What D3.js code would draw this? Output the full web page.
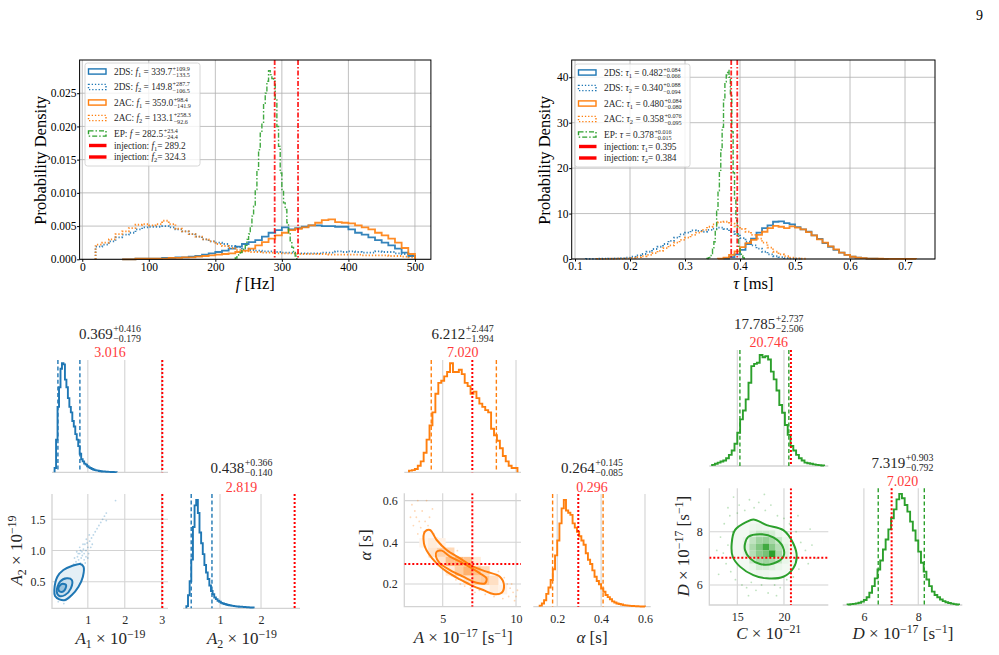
<!DOCTYPE html>
<html>
<head>
<meta charset="utf-8">
<script src="https://cdn.jsdelivr.net/npm/d3@7"></script>
<style>
body { margin: 0; background: #fff; }
</style>
</head>
<body>
<div id="fig"></div>
<script>
// ---------- data: top panels ----------
var fTicks = [0, 100, 200, 300, 400, 500];
var fDensTicks = [0, 0.005, 0.010, 0.015, 0.020, 0.025];
var tauTicks = [0.1, 0.2, 0.3, 0.4, 0.5, 0.6, 0.7];
var tauDensTicks = [0, 10, 20, 30, 40];

// f histograms (10 Hz bins)
var fBin = 10, f1Start = 60, f2Start = 20;
var f1_2DS = [0.0000,0.0000,0.0001,0.0001,0.0001,0.0001,0.0002,0.0002,0.0003,0.0003,0.0004,0.0005,0.0007,0.0009,0.0011,0.0013,0.0016,0.0019,0.0023,0.0026,0.0029,0.0034,0.0040,0.0044,0.0048,0.0045,0.0047,0.0049,0.0051,0.0051,0.0050,0.0050,0.0049,0.0049,0.0045,0.0040,0.0037,0.0033,0.0029,0.0025,0.0021,0.0016,0.0010,0.0005];
var f1_2AC = [0.0000,0.0000,0.0001,0.0001,0.0001,0.0001,0.0001,0.0002,0.0002,0.0003,0.0003,0.0004,0.0005,0.0006,0.0007,0.0008,0.0009,0.0011,0.0013,0.0016,0.0021,0.0026,0.0031,0.0036,0.0040,0.0044,0.0046,0.0048,0.0051,0.0055,0.0059,0.0060,0.0056,0.0055,0.0054,0.0051,0.0048,0.0045,0.0040,0.0036,0.0031,0.0025,0.0017,0.0008];
var f2_2DS = [0.0019,0.0022,0.0027,0.0033,0.0037,0.0040,0.0045,0.0048,0.0049,0.0049,0.0050,0.0048,0.0045,0.0042,0.0038,0.0034,0.0030,0.0027,0.0025,0.0023,0.0020,0.0018,0.0016,0.0014,0.0013,0.0012,0.0012,0.0011,0.0010,0.0010,0.0009,0.0009,0.0009,0.0009,0.0010,0.0010,0.0012,0.0011,0.0012,0.0011,0.0010,0.0010,0.0012,0.0011,0.0011,0.0009,0.0008,0.0005];
var f2_2AC = [0.0022,0.0025,0.0030,0.0038,0.0042,0.0047,0.0052,0.0053,0.0051,0.0053,0.0058,0.0053,0.0046,0.0042,0.0038,0.0034,0.0030,0.0027,0.0023,0.0020,0.0017,0.0014,0.0012,0.0011,0.0011,0.0010,0.0010,0.0009,0.0009,0.0009,0.0008,0.0008,0.0008,0.0008,0.0008,0.0007,0.0007,0.0007,0.0007,0.0007,0.0006,0.0006,0.0006,0.0006,0.0005,0.0005,0.0004,0.0003];
var fEPStart = 230, fEPBin = 2.5;
var fEP = [0.0002,0.0004,0.0007,0.0010,0.0013,0.0017,0.0021,0.0030,0.0038,0.0050,0.0065,0.0080,0.0105,0.0135,0.0165,0.0190,0.0205,0.0235,0.0250,0.0268,0.0284,0.0278,0.0272,0.0268,0.0240,0.0200,0.0170,0.0130,0.0105,0.0085,0.0075,0.0055,0.0040,0.0028,0.0018,0.0010,0.0005,0.0001];
var fInj = [289.2, 324.3];

// tau histograms (0.01 ms bins)
var tBin = 0.01;
var t1_2DSStart = 0.37;
var t1_2DS = [0.1,0.4,1.0,2.0,3.3,4.5,5.8,6.8,7.4,8.2,8.3,7.9,7.6,7.0,6.5,6.0,5.2,4.4,3.5,2.7,2.0,1.4,0.9,0.5,0.3,0.2,0.1,0.05,0.03,0.02];
var t1_2ACStart = 0.36;
var t1_2AC = [0.1,0.3,0.9,1.7,2.6,3.5,4.2,5.3,6.0,6.8,7.3,7.1,6.8,7.2,6.9,6.5,5.9,5.2,4.3,3.6,2.8,2.1,1.4,0.9,0.5,0.3,0.2,0.1,0.08,0.05,0.04,0.03,0.02,0.02,0.01,0.01];
var t2_2DSStart = 0.12;
var t2_2DS = [0.02,0.03,0.05,0.07,0.1,0.15,0.2,0.3,0.5,0.8,1.1,1.6,2.2,2.7,3.3,4.0,4.7,5.4,5.8,6.3,6.2,6.0,6.4,6.7,6.9,6.6,6.0,5.5,4.6,3.8,3.0,2.3,1.6,1.0,0.6,0.4,0.2,0.1,0.05];
var t2_2ACStart = 0.14;
var t2_2AC = [0.02,0.03,0.05,0.07,0.1,0.15,0.25,0.4,0.6,0.9,1.3,1.8,2.4,3.0,3.6,4.2,4.7,5.3,5.8,6.4,7.1,7.6,8.1,8.2,7.8,7.2,6.6,6.0,5.3,4.5,3.6,2.5,1.6,1.0,0.6,0.3,0.15,0.05];
var tEPStart = 0.34, tEPBin = 0.0025;
var tEP = [0.1,0.3,0.6,1.2,2.2,3.8,6.5,10.5,15.0,19.5,24.0,29.0,35.0,39.0,40.5,41.5,40.0,36.0,28.0,19.0,13.0,8.5,5.0,2.8,1.4,0.7,0.3,0.1];
var tInj = [0.395, 0.384];

// legend labels: [who, symbol, index, median, plus, minus]
var fLegend = [
  ['2DS', 'f', '1', '339.7', '+109.9', '\u2212133.5'],
  ['2DS', 'f', '2', '149.8', '+287.7', '\u2212106.5'],
  ['2AC', 'f', '1', '359.0', '+98.4', '\u2212141.9'],
  ['2AC', 'f', '2', '133.1', '+258.3', '\u221292.6'],
  ['EP', 'f', '', '282.5', '+23.4', '\u221224.4']
];
var tLegend = [
  ['2DS', '\u03c4', '1', '0.482', '+0.084', '\u22120.066'],
  ['2DS', '\u03c4', '2', '0.340', '+0.088', '\u22120.094'],
  ['2AC', '\u03c4', '1', '0.480', '+0.084', '\u22120.080'],
  ['2AC', '\u03c4', '2', '0.358', '+0.076', '\u22120.095'],
  ['EP', '\u03c4', '', '0.378', '+0.016', '\u22120.015']
];

// ---------- data: corner plots ----------
// 2DS amplitudes
var a1Start = 0.10, a1Bin = 0.04;
var a1Hist = [0.04,0.30,0.60,0.78,0.95,1.00,0.99,0.85,0.78,0.68,0.60,0.55,0.47,0.42,0.35,0.30,0.24,0.17,0.12,0.10,0.08,0.07,0.055,0.045,0.04,0.03,0.025,0.02,0.018,0.015,0.012,0.01,0.008,0.007,0.006,0.005,0.004,0.004,0.003,0.003,0.002,0.002];
var a2Start = 0.18, a2Bin = 0.04;
var a2Hist = [0.02,0.12,0.25,0.45,0.75,0.95,1.00,0.88,0.70,0.60,0.50,0.40,0.33,0.27,0.21,0.16,0.13,0.10,0.085,0.07,0.06,0.05,0.045,0.04,0.035,0.03,0.028,0.025,0.022,0.02,0.018,0.016,0.015,0.014,0.013,0.012,0.011,0.01,0.009,0.008,0.007];
var a1Sum = [0.369, 0.416, 0.179], a1Inj = 3.016;
var a2Sum = [0.438, 0.366, 0.140], a2Inj = 2.819;
var a12Points = [[0.55,0.6],[0.6,0.7],[0.62,0.78],[0.65,0.66],[0.68,0.82],[0.7,0.75],[0.72,0.9],[0.74,0.7],[0.75,0.85],[0.78,0.95],[0.8,0.8],[0.8,1.0],[0.82,0.88],[0.85,0.92],[0.85,0.78],[0.88,1.02],[0.9,0.95],[0.9,0.85],[0.92,1.1],[0.95,1.0],[0.95,0.9],[0.98,1.12],[1.0,1.05],[1.02,0.95],[1.05,1.15],[1.08,1.05],[1.1,1.2],[1.15,1.25],[1.2,1.3],[1.25,1.35],[1.3,1.4],[1.35,1.45],[1.4,1.5],[1.45,1.55],[1.5,1.6],[1.75,1.8],[0.5,0.5],[0.45,0.55],[0.58,0.52],[0.66,0.6],[0.72,0.62],[0.76,0.76],[0.84,0.98],[0.87,1.1],[0.93,0.8],[1.0,0.88],[1.12,1.1],[0.7,0.98],[0.78,1.05],[0.6,0.45],[0.35,0.15],[0.4,0.2],[0.2,0.18],[0.3,0.25],[1.5,1.48],[0.82,0.72],[0.96,1.18],[1.04,1.25],[0.74,0.95],[0.64,0.88]];
var a12Contours = [
  [[0.093,0.367],[0.175,0.58],[0.338,0.688],[0.567,0.752],[0.793,0.784],[0.883,0.74],[0.866,0.58],[0.747,0.42],[0.567,0.287],[0.384,0.207],[0.229,0.218],[0.112,0.27]],
  [[0.158,0.34],[0.248,0.5],[0.43,0.555],[0.567,0.528],[0.54,0.394],[0.384,0.287],[0.229,0.271]],
  [[0.202,0.394],[0.294,0.463],[0.411,0.447],[0.357,0.356],[0.248,0.34]]
];

// 2AC damping model
var aStart = 2.7, aBin = 0.2;
var aHist = [0.015,0.02,0.03,0.06,0.10,0.18,0.30,0.43,0.55,0.72,0.82,0.84,0.88,0.92,1.00,0.92,0.92,0.94,0.90,0.82,0.79,0.72,0.74,0.68,0.63,0.60,0.57,0.55,0.40,0.34,0.29,0.22,0.15,0.10,0.06,0.04,0.04];
var alStart = 0.12, alBin = 0.01;
var alHist = [0.01,0.03,0.06,0.12,0.18,0.25,0.35,0.48,0.62,0.78,0.92,1.00,0.90,0.88,0.86,0.78,0.74,0.70,0.66,0.62,0.58,0.50,0.44,0.40,0.34,0.28,0.24,0.21,0.17,0.14,0.11,0.09,0.07,0.05,0.04,0.03,0.025,0.02,0.015,0.012,0.01,0.008,0.006,0.005,0.004,0.003,0.002,0.002];
var aSum = [6.212, 2.447, 1.994], aInj = 7.020;
var alSum = [0.264, 0.145, 0.085], alInj = 0.296;
var aalPoints = [[2.9,0.58],[3.1,0.55],[3.2,0.52],[3.3,0.6],[3.4,0.5],[3.5,0.47],[3.6,0.55],[3.7,0.45],[3.8,0.5],[3.9,0.42],[4.0,0.48],[3.5,0.4],[3.3,0.44],[4.1,0.52],[4.2,0.38],[4.4,0.44],[4.6,0.42],[4.8,0.38],[5.0,0.4],[5.2,0.36],[5.0,0.33],[5.5,0.37],[5.8,0.34],[6.0,0.36],[6.2,0.31],[6.5,0.32],[6.8,0.3],[7.0,0.28],[7.3,0.3],[7.6,0.27],[7.8,0.26],[8.0,0.28],[8.3,0.25],[8.6,0.24],[8.8,0.26],[9.0,0.22],[9.2,0.23],[9.4,0.2],[9.6,0.18],[9.8,0.16],[10.0,0.14],[9.9,0.12],[9.5,0.14],[9.3,0.16],[9.1,0.13],[8.8,0.15],[8.5,0.14],[8.2,0.16],[7.9,0.15],[7.5,0.17],[7.2,0.16],[6.9,0.18],[6.5,0.19],[6.2,0.2],[5.9,0.22],[5.6,0.24],[5.3,0.25],[5.0,0.27],[4.7,0.29],[4.4,0.31],[4.1,0.33],[3.9,0.36],[3.6,0.38],[9.7,0.2],[9.0,0.18],[10.1,0.17],[3.0,0.48],[2.8,0.52],[4.3,0.56],[3.9,0.6]];
var aalContours = [
  [[3.79,0.451],[4.13,0.459],[4.59,0.411],[5.27,0.363],[6.18,0.323],[7.08,0.283],[7.99,0.259],[8.90,0.235],[9.18,0.195],[9.02,0.158],[8.45,0.152],[7.77,0.171],[7.08,0.19],[6.18,0.222],[5.27,0.259],[4.59,0.299],[4.02,0.347],[3.72,0.395]],
  [[4.59,0.355],[4.93,0.36],[5.50,0.331],[6.40,0.299],[7.54,0.251],[7.99,0.227],[7.88,0.203],[7.31,0.206],[6.40,0.235],[5.50,0.267],[4.81,0.299],[4.54,0.331]]
];
var aalCellW = 0.6, aalCellH = 0.045;
var aalCells = [[4.0,0.375,0.15],[4.0,0.33,0.2],[4.6,0.33,0.35],[4.6,0.285,0.2],[5.2,0.285,0.5],[5.2,0.33,0.3],[5.8,0.285,0.55],[5.8,0.24,0.4],[6.4,0.24,0.6],[6.4,0.285,0.45],[7.0,0.24,0.5],[7.0,0.195,0.35],[7.6,0.195,0.4],[7.6,0.24,0.3],[8.2,0.195,0.25],[8.2,0.15,0.15],[8.8,0.15,0.1],[3.4,0.375,0.08],[4.6,0.375,0.1],[5.2,0.24,0.15],[6.4,0.195,0.2],[7.0,0.285,0.15]];

// EP model
var cStart = 12.3, cBin = 0.3;
var cHist = [0.01,0.02,0.03,0.04,0.05,0.07,0.10,0.14,0.20,0.30,0.42,0.50,0.60,0.75,0.90,0.92,0.93,1.00,0.98,0.99,0.96,0.85,0.78,0.68,0.55,0.48,0.37,0.28,0.18,0.14,0.10,0.07,0.05,0.03,0.025,0.02,0.015,0.01,0.008,0.005];
var dStart = 5.4, dBin = 0.1;
var dHist = [0.005,0.008,0.01,0.015,0.02,0.03,0.045,0.07,0.11,0.17,0.24,0.32,0.40,0.50,0.59,0.68,0.78,0.86,0.95,1.00,0.96,0.90,0.84,0.75,0.67,0.58,0.48,0.38,0.30,0.23,0.17,0.12,0.09,0.07,0.05,0.035,0.025,0.018,0.012,0.008,0.005];
var cSum = [17.785, 2.737, 2.506], cInj = 20.746;
var dSum = [7.319, 0.903, 0.792], dInj = 7.020;
var cdPoints = [[13.2,7.8],[13.5,7.2],[13.6,8.3],[13.8,6.8],[14.0,7.5],[14.2,8.6],[14.3,6.5],[14.5,8.0],[14.0,8.9],[14.8,6.2],[15.0,8.7],[15.2,9.0],[15.5,6.0],[15.8,8.8],[16.0,5.9],[16.3,9.2],[16.5,6.1],[16.8,8.9],[17.0,5.8],[17.3,9.1],[17.6,6.0],[18.0,8.8],[18.3,5.7],[18.6,9.0],[19.0,6.0],[19.3,8.6],[19.6,5.9],[20.0,8.5],[20.3,6.2],[20.6,8.3],[21.0,6.3],[21.3,8.0],[21.6,6.6],[21.8,7.6],[22.0,7.0],[22.3,7.3],[22.6,6.8],[23.0,7.5],[23.5,7.0],[12.8,7.3],[13.0,6.4],[22.8,8.1],[21.5,8.6],[14.6,9.3],[17.9,9.4],[19.2,5.6],[16.2,5.6]];
var cdContours = [
  [[14.40,7.56],[14.75,8.06],[16.0,8.37],[16.72,8.46],[18.15,8.25],[19.93,8.06],[21.0,7.56],[21.37,7.06],[21.0,6.63],[19.93,6.31],[18.15,6.25],[16.72,6.37],[15.29,6.69],[14.51,7.06]],
  [[15.83,7.56],[16.18,7.81],[17.43,7.91],[18.86,7.79],[19.87,7.44],[19.93,7.06],[18.86,6.81],[17.43,6.79],[16.36,7.0],[15.83,7.31]]
];
var cdCellW = 0.7, cdCellH = 0.25;
var cdCells = [[16.3,7.8,0.15],[17.0,7.8,0.25],[17.7,7.8,0.25],[18.4,7.8,0.2],[19.1,7.8,0.1],
  [15.6,7.55,0.1],[16.3,7.55,0.3],[17.0,7.55,0.45],[17.7,7.55,0.5],[18.4,7.55,0.4],[19.1,7.55,0.25],[19.8,7.55,0.1],
  [15.6,7.3,0.15],[16.3,7.3,0.4],[17.0,7.3,0.6],[17.7,7.3,0.9],[18.4,7.3,0.55],[19.1,7.3,0.35],[19.8,7.3,0.15],
  [15.6,7.05,0.12],[16.3,7.05,0.35],[17.0,7.05,0.55],[17.7,7.05,0.65],[18.4,7.05,1.0],[19.1,7.05,0.4],[19.8,7.05,0.15],
  [16.3,6.8,0.25],[17.0,6.8,0.4],[17.7,6.8,0.45],[18.4,6.8,0.4],[19.1,6.8,0.25],[19.8,6.8,0.1],
  [16.3,6.55,0.1],[17.0,6.55,0.2],[17.7,6.55,0.2],[18.4,6.55,0.15],[19.1,6.55,0.1],
  [16.3,8.05,0.08],[17.0,8.05,0.1],[17.7,8.05,0.08],[17.0,6.3,0.08],[17.7,6.3,0.08]];

// ---------- drawing ----------
var blue = '#1f77b4', orange = '#ff7f0e', green = '#2ca02c', red = '#ff0000';
var gridCol = '#b0b0b0', cGrid = '#d3d3d3', ink = '#262626', redText = '#ff3b3b';
var dotted = '1.3,1.9', dashdot = '5,2,1.5,2';

var svg = d3.select('#fig').append('svg')
  .attr('width', 999).attr('height', 655)
  .style('font-family', '"Liberation Serif", "DejaVu Serif", serif');

// text with italic / sub / sup pieces
function rich(g, x, y, segs, size) {
  var t = g.append('text').attr('x', x).attr('y', y).attr('font-size', size);
  var shift = 0;
  segs.forEach(function (s) {
    var sh = s.sub ? size * 0.26 : (s.sup ? -size * 0.38 : 0);
    t.append('tspan').attr('dy', sh - shift)
      .attr('font-size', (s.sub || s.sup) ? size * 0.7 : size)
      .attr('font-style', s.i ? 'italic' : null)
      .text(s.t);
    shift = sh;
  });
  return t;
}

// stacked +/- scripts after a number
function scripts(g, x, y, up, lo, size, k) {
  k = k || 0.28;
  g.append('text').attr('x', x).attr('y', y - size * 0.42).attr('font-size', size * 0.66).text(up);
  g.append('text').attr('x', x).attr('y', y + size * k).attr('font-size', size * 0.66).text(lo);
}

function centered(parent, cx, y, segs, size, fill, up, lo) {
  var g = parent.append('g').attr('fill', fill);
  var t = rich(g, 0, y, segs, size);
  if (up) scripts(g, t.node().getComputedTextLength() + 0.5, y, up, lo, size, 0.2);
  var bb = g.node().getBBox();
  g.attr('transform', 'translate(' + (cx - bb.x - bb.width / 2) + ',0)');
  return g;
}

function ylabel(x, cy, segs, size) {
  var g = svg.append('g').attr('transform', 'translate(' + x + ',' + cy + ') rotate(-90)');
  centered(g, 0, 0, segs, size, ink);
}

function stepPath(x, y, start, width, vals) {
  var pts = [[x(start), y(0)]];
  vals.forEach(function (v, i) {
    pts.push([x(start + i * width), y(v)]);
    pts.push([x(start + (i + 1) * width), y(v)]);
  });
  pts.push([x(start + vals.length * width), y(0)]);
  return d3.line()(pts);
}

function styleAxis(a, size, col) {
  a.attr('font-family', null).attr('font-size', size);
  a.select('.domain').remove();
  a.selectAll('text').attr('fill', col);
  a.selectAll('line').attr('stroke', '#000');
}

// ---- top panels ----
function topPanel(o) {
  var x = d3.scaleLinear().domain(o.xDom).range([o.left, o.right]);
  var y = d3.scaleLinear().domain(o.yDom).range([o.bottom, o.top]);
  var g = svg.append('g');
  g.selectAll('.gx').data(o.xTicks).enter().append('line')
    .attr('x1', function (d) { return x(d); }).attr('x2', function (d) { return x(d); })
    .attr('y1', o.top).attr('y2', o.bottom)
    .attr('stroke', gridCol).attr('stroke-width', 0.8);
  g.selectAll('.gy').data(o.yTicks).enter().append('line')
    .attr('y1', function (d) { return y(d); }).attr('y2', function (d) { return y(d); })
    .attr('x1', o.left).attr('x2', o.right)
    .attr('stroke', gridCol).attr('stroke-width', 0.8);

  o.series.forEach(function (s) {
    g.append('path').attr('d', stepPath(x, y, s.start, s.width, s.vals))
      .attr('fill', 'none').attr('stroke', s.color).attr('stroke-width', s.lw || 1.8)
      .attr('stroke-opacity', 0.9).attr('stroke-dasharray', s.dash || null);
  });
  o.inj.forEach(function (v) {
    g.append('line').attr('x1', x(v)).attr('x2', x(v)).attr('y1', o.top).attr('y2', o.bottom)
      .attr('stroke', red).attr('stroke-width', 1.8).attr('stroke-opacity', 0.85)
      .attr('stroke-dasharray', dashdot);
  });

  g.append('g').attr('transform', 'translate(0,' + o.bottom + ')')
    .call(d3.axisBottom(x).tickValues(o.xTicks).tickFormat(d3.format(o.xFmt)).tickSize(2.5).tickPadding(0.8))
    .call(styleAxis, 11.5, '#000');
  g.append('g').attr('transform', 'translate(' + o.left + ',0)')
    .call(d3.axisLeft(y).tickValues(o.yTicks).tickFormat(d3.format(o.yFmt)).tickSize(2.5).tickPadding(0.6))
    .call(styleAxis, 11.5, '#000');
  g.append('rect').attr('x', o.left).attr('y', o.top)
    .attr('width', o.right - o.left).attr('height', o.bottom - o.top)
    .attr('fill', 'none').attr('stroke', '#000').attr('stroke-width', 1);

  centered(svg, (o.left + o.right) / 2, 289, o.xLabel, 16.5, '#000');
  var yl = svg.append('g').attr('transform', 'translate(' + o.yLabelX + ',160) rotate(-90)');
  centered(yl, 0, 0, [{ t: 'Probability Density' }], 16.5, '#000');

  legend(o.legX, o.legY, o.legRows, o.sym, o.injVals);
}

var legRowY = [8.5, 24, 39.5, 55, 70.5, 82.5, 94];
var legStyles = [
  { c: blue, dash: null }, { c: blue, dash: dotted },
  { c: orange, dash: null }, { c: orange, dash: dotted },
  { c: green, dash: dashdot }
];

function legend(bx, by, rows, sym, injVals) {
  var g = svg.append('g');
  g.append('rect').attr('x', bx).attr('y', by).attr('width', 115).attr('height', 103).attr('rx', 2.5)
    .attr('fill', '#fff').attr('fill-opacity', 0.8).attr('stroke', '#cccccc').attr('stroke-width', 0.8);
  rows.forEach(function (r, i) {
    var cy = by + legRowY[i], st = legStyles[i];
    g.append('rect').attr('x', bx + 3.5).attr('y', cy - 2.6).attr('width', 17.5).attr('height', 5.2)
      .attr('fill', 'none').attr('stroke', st.c).attr('stroke-width', 1.4)
      .attr('stroke-dasharray', st.dash);
    var segs = [{ t: r[0] + ': ' }, { t: r[1], i: 1 }];
    if (r[2]) segs.push({ t: r[2], sub: 1 });
    segs.push({ t: ' = ' + r[3] });
    var tg = g.append('g').attr('fill', ink);
    var t = rich(tg, bx + 29, cy + 3, segs, 9.3);
    scripts(tg, bx + 29 + t.node().getComputedTextLength() + 0.5, cy + 3, r[4], r[5], 9.3);
  });
  injVals.forEach(function (v, j) {
    var cy = by + legRowY[5 + j];
    g.append('line').attr('x1', bx + 4).attr('x2', bx + 21.5).attr('y1', cy).attr('y2', cy)
      .attr('stroke', red).attr('stroke-width', 3.4);
    rich(g.append('g').attr('fill', ink), bx + 29, cy + 3,
      [{ t: 'injection: ' }, { t: sym, i: 1 }, { t: String(j + 1), sub: 1 }, { t: '= ' + v }], 9.3);
  });
}

topPanel({
  left: 79.6, right: 430.9, top: 60, bottom: 259.3,
  xDom: [-4, 524], yDom: [0, 0.030],
  xTicks: fTicks, yTicks: fDensTicks, xFmt: 'd', yFmt: '.3f',
  series: [
    { start: f1Start, width: fBin, vals: f1_2DS, color: blue },
    { start: f2Start, width: fBin, vals: f2_2DS, color: blue, dash: dotted },
    { start: f1Start, width: fBin, vals: f1_2AC, color: orange },
    { start: f2Start, width: fBin, vals: f2_2AC, color: orange, dash: dotted },
    { start: fEPStart, width: fEPBin, vals: fEP, color: green, dash: dashdot, lw: 1.4 }
  ],
  inj: fInj,
  xLabel: [{ t: 'f', i: 1 }, { t: ' [Hz]' }], yLabelX: 46,
  legX: 85, legY: 63, legRows: fLegend, sym: 'f', injVals: ['289.2', '324.3']
});

topPanel({
  left: 571.7, right: 935, top: 60, bottom: 259,
  xDom: [0.094, 0.7545], yDom: [0, 43.8],
  xTicks: tauTicks, yTicks: tauDensTicks, xFmt: '.1f', yFmt: 'd',
  series: [
    { start: t1_2DSStart, width: tBin, vals: t1_2DS, color: blue },
    { start: t2_2DSStart, width: tBin, vals: t2_2DS, color: blue, dash: dotted },
    { start: t1_2ACStart, width: tBin, vals: t1_2AC, color: orange },
    { start: t2_2ACStart, width: tBin, vals: t2_2AC, color: orange, dash: dotted },
    { start: tEPStart, width: tEPBin, vals: tEP, color: green, dash: dashdot, lw: 1.4 }
  ],
  inj: tInj,
  xLabel: [{ t: '\u03c4', i: 1 }, { t: ' [ms]' }], yLabelX: 550,
  legX: 575, legY: 64, legRows: tLegend, sym: '\u03c4', injVals: ['0.395', '0.384']
});

svg.append('text').attr('x', 983).attr('y', 20).attr('font-size', 14)
  .attr('text-anchor', 'end').text('9');

// ---- corner panels ----
var clipN = 0;
function clipRect(x0, y0, x1, y1) {
  var id = 'clip' + (clipN++);
  svg.append('clipPath').attr('id', id).append('rect')
    .attr('x', x0).attr('y', y0).attr('width', x1 - x0).attr('height', y1 - y0);
  return 'url(#' + id + ')';
}

function vline(g, x, y0, y1, col, dash, w) {
  g.append('line').attr('x1', x).attr('x2', x).attr('y1', y0).attr('y2', y1)
    .attr('stroke', col).attr('stroke-width', w).attr('stroke-dasharray', dash);
}

function hist1d(o) {
  var x = d3.scaleLinear().domain(o.dom).range([o.x0, o.x1]);
  var y = d3.scaleLinear().domain([0, o.ymax]).range([o.y1, o.y0]);
  var g = svg.append('g');
  o.ticks.forEach(function (t) { vline(g, x(t), o.y0, o.y1, cGrid, null, 1.1); });
  g.append('line').attr('x1', o.x0).attr('x2', o.x1).attr('y1', o.y1).attr('y2', o.y1)
    .attr('stroke', cGrid).attr('stroke-width', 1.3);
  g.append('path').attr('d', stepPath(x, y, o.start, o.width, o.vals))
    .attr('fill', 'none').attr('stroke', o.color).attr('stroke-width', 1.9).attr('stroke-linejoin', 'miter');
  var s = o.sum;
  [s[0] - s[2], s[0] + s[1]].forEach(function (q) {
    vline(g, x(q), o.y0, o.y1, o.color, '4,2.6', 1.4);
  });
  vline(g, x(o.inj), o.y0, o.y1, red, '2,2', 2);
  if (o.fmt) {
    g.append('g').attr('transform', 'translate(0,' + o.y1 + ')')
      .call(d3.axisBottom(x).tickValues(o.ticks).tickFormat(d3.format(o.fmt)).tickSize(0).tickPadding(o.pad))
      .call(styleAxis, 12, ink);
  }
  // title: median with errors, then injected value
  centered(svg, (o.x0 + o.x1) / 2, o.tY,
    [{ t: s[0].toFixed(3) }], 15, ink, '+' + s[1].toFixed(3), '\u2212' + s[2].toFixed(3));
  centered(svg, (o.x0 + o.x1) / 2, o.rY, [{ t: o.inj.toFixed(3) }], 14, redText);
}

function scatter2d(o) {
  var x = d3.scaleLinear().domain(o.xdom).range([o.x0, o.x1]);
  var y = d3.scaleLinear().domain(o.ydom).range([o.y1, o.y0]);
  var g = svg.append('g');
  o.xt.forEach(function (t) { vline(g, x(t), o.y0, o.y1, cGrid, null, 1.1); });
  o.yt.forEach(function (t) {
    g.append('line').attr('x1', o.x0).attr('x2', o.x1).attr('y1', y(t)).attr('y2', y(t))
      .attr('stroke', cGrid).attr('stroke-width', 1.1);
  });
  g.append('path').attr('d', 'M' + o.x0 + ',' + o.y0 + 'V' + o.y1 + 'H' + o.x1)
    .attr('fill', 'none').attr('stroke', cGrid).attr('stroke-width', 1.3);

  var inner = g.append('g').attr('clip-path', clipRect(o.x0, o.y0, o.x1, o.y1));
  inner.selectAll('circle').data(o.points).enter().append('circle')
    .attr('cx', function (d) { return x(d[0]); }).attr('cy', function (d) { return y(d[1]); })
    .attr('r', 0.9).attr('fill', o.color).attr('fill-opacity', 0.3);

  var shade = d3.interpolateRgb('#ffffff', o.color);
  var closed = d3.line().curve(d3.curveCatmullRomClosed.alpha(0.5))
    .x(function (d) { return x(d[0]); }).y(function (d) { return y(d[1]); });
  o.contours.forEach(function (c, i) {
    inner.append('path').attr('d', closed(c))
      .attr('fill', shade(o.fills[i])).attr('stroke', 'none');
  });
  if (o.cells) {
    inner.selectAll('rect.cell').data(o.cells).enter().append('rect').attr('class', 'cell')
      .attr('x', function (d) { return x(d[0]); })
      .attr('y', function (d) { return y(d[1] + o.cellH); })
      .attr('width', function (d) { return x(d[0] + o.cellW) - x(d[0]); })
      .attr('height', function (d) { return y(d[1]) - y(d[1] + o.cellH); })
      .attr('fill', function (d) { return shade(d[2]); });
  }
  o.contours.forEach(function (c) {
    inner.append('path').attr('d', closed(c))
      .attr('fill', 'none').attr('stroke', o.color).attr('stroke-width', 2);
  });
  if (o.injX > o.xdom[0] && o.injX < o.xdom[1]) vline(inner, x(o.injX), o.y0, o.y1, red, '2,2', 2);
  if (o.injY > o.ydom[0] && o.injY < o.ydom[1]) {
    inner.append('line').attr('x1', o.x0).attr('x2', o.x1).attr('y1', y(o.injY)).attr('y2', y(o.injY))
      .attr('stroke', red).attr('stroke-width', 2).attr('stroke-dasharray', '2,2');
  }
  g.append('g').attr('transform', 'translate(0,' + o.y1 + ')')
    .call(d3.axisBottom(x).tickValues(o.xt).tickFormat(d3.format(o.xf)).tickSize(0).tickPadding(o.pad))
    .call(styleAxis, 12, ink);
  g.append('g').attr('transform', 'translate(' + o.x0 + ',0)')
    .call(d3.axisLeft(y).tickValues(o.yt).tickFormat(d3.format(o.yf)).tickSize(0).tickPadding(6.5))
    .call(styleAxis, 12, ink);
}

// corner 1: 2DS amplitudes
hist1d({ x0: 52, x1: 168, y0: 360, y1: 472.3, dom: [0.03, 3.17], ymax: 1.03, ticks: [1, 2, 3],
  start: a1Start, width: a1Bin, vals: a1Hist, color: blue, sum: a1Sum, inj: a1Inj, tY: 338.5, rY: 357 });
scatter2d({ x0: 52, x1: 168, y0: 494, y1: 608.3, xdom: [0.03, 3.17], ydom: [0.074, 1.905],
  xt: [1, 2, 3], yt: [0.5, 1.0, 1.5], xf: 'd', yf: '.1f', pad: 7, color: blue,
  points: a12Points, contours: a12Contours, fills: [0.12, 0.25, 0.45], injX: a1Inj, injY: a2Inj });
hist1d({ x0: 183, x1: 300, y0: 494, y1: 608.3, dom: [0.098, 2.95], ymax: 1.055, ticks: [1, 2],
  fmt: 'd', pad: 7, start: a2Start, width: a2Bin, vals: a2Hist, color: blue, sum: a2Sum, inj: a2Inj, tY: 472.5, rY: 491.5 });
centered(svg, 110, 644, [{ t: 'A', i: 1 }, { t: '1', sub: 1 }, { t: ' \u00d7 10' }, { t: '\u221219', sup: 1 }], 17, ink);
centered(svg, 241.5, 644, [{ t: 'A', i: 1 }, { t: '2', sub: 1 }, { t: ' \u00d7 10' }, { t: '\u221219', sup: 1 }], 17, ink);
ylabel(22, 551, [{ t: 'A', i: 1 }, { t: '2', sub: 1 }, { t: ' \u00d7 10' }, { t: '\u221219', sup: 1 }], 17);

// corner 2: 2AC
hist1d({ x0: 404.3, x1: 521, y0: 360, y1: 472.3, dom: [2.38, 10.34], ymax: 1.03, ticks: [5, 10],
  start: aStart, width: aBin, vals: aHist, color: orange, sum: aSum, inj: aInj, tY: 338.5, rY: 357 });
scatter2d({ x0: 404.3, x1: 521, y0: 493.3, y1: 606.7, xdom: [2.38, 10.34], ydom: [0.091, 0.635],
  xt: [5, 10], yt: [0.2, 0.4, 0.6], xf: 'd', yf: '.1f', pad: 7.5, color: orange,
  points: aalPoints, contours: aalContours, fills: [0.06, 0.15],
  cells: aalCells, cellW: aalCellW, cellH: aalCellH, injX: aInj, injY: alInj });
hist1d({ x0: 533.3, x1: 650.7, y0: 494, y1: 606.7, dom: [0.091, 0.626], ymax: 1.055, ticks: [0.2, 0.4, 0.6],
  fmt: '.1f', pad: 7.5, start: alStart, width: alBin, vals: alHist, color: orange, sum: alSum, inj: alInj, tY: 472.5, rY: 491.5 });
centered(svg, 462.7, 643, [{ t: 'A', i: 1 }, { t: ' \u00d7 10' }, { t: '\u221217', sup: 1 }, { t: ' [s' }, { t: '\u22121', sup: 1 }, { t: ']' }], 17, ink);
centered(svg, 592, 643, [{ t: '\u03b1', i: 1 }, { t: ' [s]' }], 17, ink);
ylabel(371, 545, [{ t: '\u03b1', i: 1 }, { t: ' [s]' }], 17);

// corner 3: EP
hist1d({ x0: 709.3, x1: 828.3, y0: 350, y1: 466, dom: [12.0, 24.75], ymax: 1.045, ticks: [15, 20],
  start: cStart, width: cBin, vals: cHist, color: green, sum: cSum, inj: cInj, tY: 328.5, rY: 347 });
scatter2d({ x0: 709.3, x1: 828.3, y0: 488.3, y1: 605, xdom: [12.0, 24.75], ydom: [5.25, 9.63],
  xt: [15, 20], yt: [6, 8], xf: 'd', yf: 'd', pad: 7, color: green,
  points: cdPoints, contours: cdContours, fills: [0.06, 0.15],
  cells: cdCells, cellW: cdCellW, cellH: cdCellH, injX: cInj, injY: dInj });
hist1d({ x0: 842.7, x1: 962.3, y0: 488.3, y1: 605, dom: [5.22, 9.62], ymax: 1.05, ticks: [6, 8],
  fmt: 'd', pad: 7, start: dStart, width: dBin, vals: dHist, color: green, sum: dSum, inj: dInj, tY: 467.5, rY: 486 });
centered(svg, 768.8, 639, [{ t: 'C', i: 1 }, { t: ' \u00d7 10' }, { t: '\u221221', sup: 1 }], 17, ink);
centered(svg, 902.5, 639, [{ t: 'D', i: 1 }, { t: ' \u00d7 10' }, { t: '\u221217', sup: 1 }, { t: ' [s' }, { t: '\u22121', sup: 1 }, { t: ']' }], 17, ink);
ylabel(689, 546.7, [{ t: 'D', i: 1 }, { t: ' \u00d7 10' }, { t: '\u221217', sup: 1 }, { t: ' [s' }, { t: '\u22121', sup: 1 }, { t: ']' }], 17);
</script>
</body>
</html>
